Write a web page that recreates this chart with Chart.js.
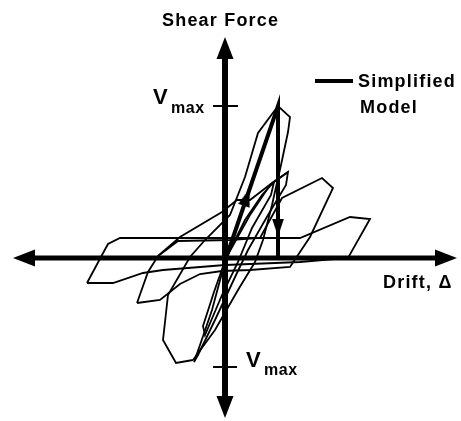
<!DOCTYPE html>
<html>
<head>
<meta charset="utf-8">
<script src="https://cdn.jsdelivr.net/npm/chart.js@4"></script>
<style>
  html, body { margin: 0; padding: 0; background: #fff; }
  #wrap { width: 461px; height: 421px; }
</style>
</head>
<body>
<div id="wrap"><canvas id="chart"></canvas></div>
<script>
// hysteresis cycles, drift vs shear (same plotting units on both axes)
var cycleA_drift = [-32, -49, -62, -57, -35, -20, 5, 20, 33, 53, 65, 63, 56, 47, 38, 30, 13, -10, -32];
var cycleA_shear = [-102, -105, -82, -37, 1, 18, 43, 81, 125, 152, 141, 126, 93, 53, 18, -4, -32, -72, -102];

var cycleB_drift = [-88, -77, -67, -47, 5, 35, 57, 97, 108, 85, 65, 25, -3, -25, -45, -65, -88];
var cycleB_shear = [-45, -14, 2, 17, 18, 20, 60, 80, 70, 21, -9, -12, -13, -16, -26, -42, -45];

var cycleC_drift = [-138, -123, -117, -105, 75, 125, 145, 123, 75, 0, -62, -82, -112, -138];
var cycleC_shear = [-25, 3, 14, 20, 20, 41, 39, 0, -4, -7, -12, -15, -25, -25];

var cycleD_drift = [1, 25, 45, 63, 61, 43, 23, 11, -10, -27, -31, -25, -13, 1];
var cycleD_shear = [0, 43, 73, 86, 73, 43, 8, -17, -62, -97, -104, -87, -52, 0];

var cycleE_drift = [1, 20, 37, 49, 46, 27, 13, -3, -20, -22, -11, 1];
var cycleE_shear = [0, 38, 63, 76, 63, 30, -4, -37, -77, -68, -34, 0];

var reload_drift = [-67, -45, -3, 12, 25, 47, 63];
var reload_shear = [2, 21, 46, 58, 58, 75, 86];

// simplified model: elastic rise to Vmax, then drop at constant drift
var model_drift = [1, 53, 53];
var model_shear = [0, 152, 0];

var vmaxPos = 152;
var vmaxNeg = -109;

// axis extents (arrow centres)
var axisLeft = -201, axisRight = 221, axisTop = 210, axisBottom = -149;

function pts(xs, ys) {
  return xs.map(function(x, i){ return {x: x, y: ys[i]}; });
}

function arrowHead(len, wid) {
  var c = document.createElement('canvas');
  c.width = len; c.height = len;
  var g = c.getContext('2d');
  g.fillStyle = '#000';
  g.beginPath();
  g.moveTo(len / 2, 0);
  g.lineTo(len / 2 + wid / 2, len);
  g.lineTo(len / 2 - wid / 2, len);
  g.closePath();
  g.fill();
  return c;
}

var axisArrow = arrowHead(22, 17);
var modelArrow = arrowHead(18, 12);

// arrows along the simplified model, placed on its segments
function alongSegment(i, t) {
  var x0 = model_drift[i], y0 = model_shear[i];
  var x1 = model_drift[i + 1], y1 = model_shear[i + 1];
  return {
    pt: {x: x0 + (x1 - x0) * t, y: y0 + (y1 - y0) * t},
    rot: Math.atan2(x1 - x0, y1 - y0) * 180 / Math.PI
  };
}
var upArrow = alongSegment(0, 0.4);
var downArrow = alongSegment(1, 0.8);

function thin(data) {
  return {
    data: data, showLine: true, borderColor: '#000', borderWidth: 1.8,
    pointRadius: 0, fill: false, tension: 0, clip: false
  };
}

var labels = {
  id: 'labels',
  afterDraw: function(chart) {
    var ctx = chart.ctx;
    var xs = chart.scales.x, ys = chart.scales.y;
    var x0 = xs.getPixelForValue(0);
    ctx.save();
    ctx.fillStyle = '#000';
    ctx.textBaseline = 'alphabetic';
    ctx.letterSpacing = '1.2px';

    ctx.font = 'bold 18px "Liberation Sans", Arial, sans-serif';
    ctx.fillText('Shear Force', 162, 26);
    ctx.fillText('Drift, \u0394', 383, 288);

    // legend
    ctx.fillRect(315, 79, 38, 4);
    ctx.fillText('Simplified', 358, 87);
    ctx.fillText('Model', 360, 113);

    // Vmax labels beside the axis ticks
    var yTop = ys.getPixelForValue(vmaxPos);
    var yBot = ys.getPixelForValue(vmaxNeg);
    ctx.letterSpacing = '0px';
    ctx.font = 'bold 22px "Liberation Sans", Arial, sans-serif';
    ctx.fillText('V', x0 - 72, yTop - 2);
    ctx.fillText('V', x0 + 21, yBot);
    ctx.letterSpacing = '0.5px';
    ctx.font = 'bold 16px "Liberation Sans", Arial, sans-serif';
    ctx.fillText('max', x0 - 54, yTop + 7);
    ctx.fillText('max', x0 + 39, yBot + 8);
    ctx.restore();
  }
};

new Chart(document.getElementById('chart'), {
  type: 'scatter',
  data: {
    datasets: [
      {
        data: [{x: 0, y: axisTop}, {x: 0, y: axisBottom}, {x: axisLeft, y: 0}, {x: axisRight, y: 0}],
        showLine: false, pointStyle: axisArrow, pointRotation: [0, 180, -90, 90],
        pointRadius: 11, clip: false
      },
      {
        data: [upArrow.pt, downArrow.pt],
        showLine: false, pointStyle: modelArrow, pointRotation: [upArrow.rot, downArrow.rot],
        pointRadius: 9, clip: false
      },
      {
        data: pts([0, 0], [axisTop, axisBottom]),
        showLine: true, borderColor: '#000', borderWidth: 6, pointRadius: 0, clip: false
      },
      {
        data: pts([axisLeft, axisRight], [0, 0]),
        showLine: true, borderColor: '#000', borderWidth: 5, pointRadius: 0, clip: false
      },
      {
        data: pts([-12, 13], [vmaxPos, vmaxPos]),
        showLine: true, borderColor: '#000', borderWidth: 2, pointRadius: 0, clip: false
      },
      {
        data: pts([-12, 12], [vmaxNeg, vmaxNeg]),
        showLine: true, borderColor: '#000', borderWidth: 2, pointRadius: 0, clip: false
      },
      {
        data: pts(model_drift, model_shear),
        showLine: true, borderColor: '#000', borderWidth: 4, pointRadius: 0, clip: false
      },
      thin(pts(cycleA_drift, cycleA_shear)),
      thin(pts(cycleB_drift, cycleB_shear)),
      thin(pts(cycleC_drift, cycleC_shear)),
      thin(pts(cycleD_drift, cycleD_shear)),
      thin(pts(cycleE_drift, cycleE_shear)),
      thin(pts(reload_drift, reload_shear))
    ]
  },
  options: {
    responsive: true,
    maintainAspectRatio: false,
    animation: false,
    layout: { padding: 0, autoPadding: false },
    plugins: { legend: { display: false }, tooltip: { enabled: false } },
    scales: {
      x: { type: 'linear', min: -225, max: 236, display: false },
      y: { type: 'linear', min: -163, max: 258, display: false }
    }
  },
  plugins: [labels]
});
</script>
</body>
</html>
